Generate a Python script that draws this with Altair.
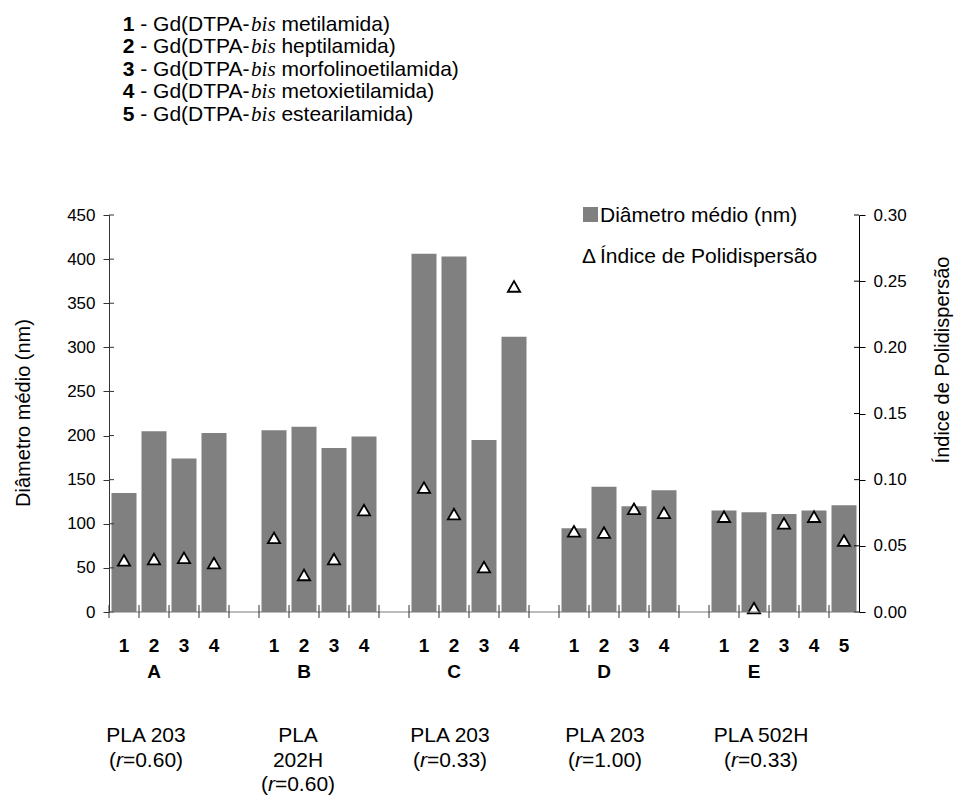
import altair as alt
import pandas as pd

# ---------------- data ----------------
grupos = ["A", "B", "C", "D", "E"]
compostos_por_grupo = [[1, 2, 3, 4], [1, 2, 3, 4], [1, 2, 3, 4], [1, 2, 3, 4], [1, 2, 3, 4, 5]]
diametro_medio = [
    [135, 205, 174, 203],
    [206, 210, 186, 199],
    [406, 403, 195, 312],
    [95, 142, 120, 138],
    [115, 113, 111, 115, 121],
]
indice_pdi = [
    [0.039, 0.040, 0.041, 0.037],
    [0.056, 0.028, 0.040, 0.077],
    [0.094, 0.074, 0.034, 0.246],
    [0.061, 0.060, 0.078, 0.075],
    [0.072, 0.003, 0.067, 0.072, 0.054],
]
polimero = [["PLA 203"], ["PLA", "202H"], ["PLA 203"], ["PLA 203"], ["PLA 502H"]]
razao_r = ["0.60", "0.60", "0.33", "1.00", "0.33"]
amidas = ["metilamida", "heptilamida", "morfolinoetilamida", "metoxietilamida", "estearilamida"]
ticks_diametro = [0, 50, 100, 150, 200, 250, 300, 350, 400, 450]
ticks_pdi = [0.00, 0.05, 0.10, 0.15, 0.20, 0.25, 0.30]

# ---------------- layout ----------------
W, H = 750, 397
SANS = "Liberation Sans, Arial, sans-serif"
SERIF = "Liberation Serif, Times New Roman, serif"
BAR_GREY = "#808080"

# Arial / Liberation Sans advance widths (1/1000 em) for the glyphs used in mixed-style labels
ADV = {" ": 278, "-": 333, "(": 333, ")": 333, "=": 584, ".": 278, "G": 778, "D": 722,
       "T": 611, "P": 667, "A": 667, "d": 556, "r": 333, "0": 556, "1": 556, "2": 556,
       "3": 556, "4": 556, "5": 556, "6": 556}
ADV_TIMES_ITALIC = {"b": 500, "i": 278, "s": 389}


def width(s, size, table=ADV):
    return sum(table.get(ch, 556) for ch in s) * size / 1000.0


# category slots: each compound gets a slot, with an empty slot between groups
cats, rows = [], []
for gi, g in enumerate(grupos):
    for k, n in enumerate(compostos_por_grupo[gi]):
        c = f"{g}{n}"
        cats.append(c)
        rows.append(dict(cat=c, grupo=g, num=str(n),
                         diam=diametro_medio[gi][k], pdi=indice_pdi[gi][k]))
    if gi < len(grupos) - 1:
        cats.append(f"{g}-")
df = pd.DataFrame(rows)
df_cats = pd.DataFrame({"cat": cats})
df_grupos = pd.DataFrame({"cat": [f"{g}2" for g in grupos], "grupo": grupos})

xscale = alt.Scale(domain=cats, paddingInner=0, paddingOuter=0)
one = pd.DataFrame({"k": [0]})


def txt(s, x, y, size=21, weight="normal", style="normal", font=SANS,
        align="left", angle=0, baseline="alphabetic"):
    return alt.Chart(one).mark_text(
        text=s, font=font, fontSize=size, fontWeight=weight, fontStyle=style,
        align=align, baseline=baseline, angle=angle, color="black"
    ).encode(x=alt.value(x), y=alt.value(y))


# bars: mean diameter (left axis)
bars = alt.Chart(df).mark_bar(color=BAR_GREY, width=alt.RelativeBandSize(25 / 30)).encode(
    x=alt.X("cat:N", scale=xscale, axis=None, sort=cats),
    y=alt.Y("diam:Q", scale=alt.Scale(domain=[0, 450], nice=False, zero=True),
            axis=alt.Axis(orient="left", values=ticks_diametro, title=None, grid=False,
                          tickSize=6, labelPadding=8, labelFont=SANS, labelFontSize=17,
                          labelColor="black", domainColor="#333333", tickColor="#333333",
                          labelFlush=False, labelOverlap=False)),
)

# inner halves of the left-axis ticks
left_inner = alt.Chart(pd.DataFrame({"v": ticks_diametro})).mark_rule(color="#333333").encode(
    y=alt.Y("v:Q", scale=alt.Scale(domain=[0, 450], nice=False), axis=None),
    x=alt.value(0), x2=alt.value(5),
)

# triangles: polydispersity index (right axis)
points = alt.Chart(df).mark_point(
    shape="triangle-up", filled=True, fill="white", stroke="black",
    strokeWidth=1.8, size=150, opacity=1
).encode(
    x=alt.X("cat:N", scale=xscale, axis=None, sort=cats),
    y=alt.Y("pdi:Q", scale=alt.Scale(domain=[0, 0.30], nice=False, zero=True),
            axis=alt.Axis(orient="right", values=ticks_pdi, format=".2f", title=None,
                          grid=False, tickSize=6, labelPadding=8, labelFont=SANS,
                          labelFontSize=17, labelColor="black", domainColor="black",
                          tickColor="black", labelFlush=False, labelOverlap=False)),
)

right_inner = alt.Chart(pd.DataFrame({"v": ticks_pdi})).mark_rule(color="black").encode(
    y=alt.Y("v:Q", scale=alt.Scale(domain=[0, 0.30], nice=False), axis=None),
    x=alt.value(W - 5), x2=alt.value(W),
)

# category axis: baseline and slot-boundary ticks crossing it
x_line = alt.Chart(one).mark_rule(color="#7a7a7a", strokeWidth=1.2).encode(
    x=alt.value(0), x2=alt.value(W), y=alt.value(H)
)
x_ticks = alt.Chart(df_cats).mark_rule(color="#333333").encode(
    x=alt.X("cat:N", scale=xscale, axis=None, sort=cats, bandPosition=0),
    y=alt.value(H - 7), y2=alt.value(H + 6),
)

num_labels = alt.Chart(df).mark_text(
    font=SANS, fontSize=19, fontWeight="bold", baseline="alphabetic", color="black"
).encode(
    x=alt.X("cat:N", scale=xscale, axis=None, sort=cats),
    y=alt.value(H + 40),
    text="num:N",
)
group_labels = alt.Chart(df_grupos).mark_text(
    font=SANS, fontSize=19, fontWeight="bold", baseline="alphabetic", color="black"
).encode(
    x=alt.X("cat:N", scale=xscale, axis=None, sort=cats),
    y=alt.value(H + 66),
    text="grupo:N",
)

layers = [bars, left_inner, points, right_inner, x_line, x_ticks, num_labels, group_labels]

# polymer / ratio captions under each group
centres = [37, 189, 341, 496, 652]
line_y = [527, 551.5, 576]
FS = 21
for gi in range(len(grupos)):
    cx = centres[gi]
    for li, linha in enumerate(polimero[gi]):
        layers.append(txt(linha, cx, line_y[li], size=FS, align="center"))
    yy = line_y[len(polimero[gi])]
    tail = f"={razao_r[gi]})"
    total = width("(", FS) + width("r", FS) + width(tail, FS)
    x0 = cx - total / 2
    layers.append(txt("(", x0, yy, size=FS))
    layers.append(txt("r", x0 + width("(", FS), yy, size=FS, style="italic"))
    layers.append(txt(tail, x0 + width("(", FS) + width("r", FS), yy, size=FS))

# compound key above the plot
LX = 13.7
key_y = [-184.3, -161.8, -139.3, -116.8, -94.3]
for i, nome in enumerate(amidas):
    y = key_y[i]
    n = str(i + 1)
    x1 = LX + width(n, FS) + width(" ", FS)
    mid = "- Gd(DTPA-"
    x2 = x1 + width(mid, FS)
    x3 = x2 + width("bis", FS, ADV_TIMES_ITALIC) + width(" ", FS)
    layers.append(txt(n, LX, y, size=FS, weight="bold"))
    layers.append(txt(mid, x1, y, size=FS))
    layers.append(txt("bis", x2, y, size=FS, style="italic", font=SERIF))
    layers.append(txt(nome + ")", x3, y, size=FS))

# series key inside the plot
layers.append(
    alt.Chart(one).mark_point(shape="square", filled=True, color=BAR_GREY, size=225, opacity=1)
    .encode(x=alt.value(481.5), y=alt.value(-0.5))
)
layers.append(txt("Diâmetro médio (nm)", 491, 6.5, size=FS))
layers.append(txt("Δ", 473, 48, size=FS))
layers.append(txt("Índice de Polidispersão", 491, 48, size=FS))

# axis titles
layers.append(txt("Diâmetro médio (nm)", -85, 198, size=20, align="center",
                  angle=270, baseline="middle"))
layers.append(txt("Índice de Polidispersão", 834, 145, size=20, align="center",
                  angle=270, baseline="middle"))

chart = (
    alt.layer(*layers)
    .resolve_scale(y="independent")
    .properties(
        width=W, height=H,
        padding={"left": 109, "top": 215, "right": 97, "bottom": 183},
        autosize=alt.AutoSizeParams(type="none"),
        background="white",
    )
    .configure_view(stroke=None)
)

chart.save("out.html", embed_options={"renderer": "svg", "actions": False})
